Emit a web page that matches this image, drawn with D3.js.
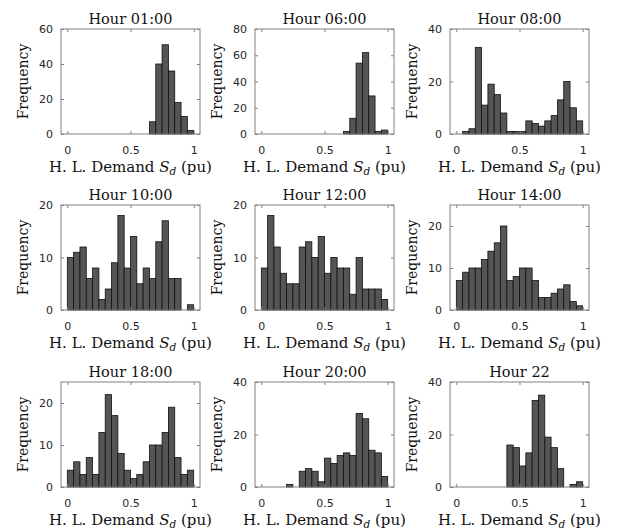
<!DOCTYPE html>
<html>
<head>
<meta charset="utf-8">
<script src="https://cdn.jsdelivr.net/npm/d3@7"></script>
<style>
  html, body { margin: 0; padding: 0; background: #fff; }
  svg { display: block; }
</style>
</head>
<body>
<svg id="chart" width="618" height="531"></svg>
<script>
// ---- Data ----
const titles = ["Hour 01:00", "Hour 06:00", "Hour 08:00",
                "Hour 10:00", "Hour 12:00", "Hour 14:00",
                "Hour 18:00", "Hour 20:00", "Hour 22"];
// bin left edges (bin width 0.05 pu)
const binEdges = [0, 0.05, 0.10, 0.15, 0.20, 0.25, 0.30, 0.35, 0.40, 0.45,
                  0.50, 0.55, 0.60, 0.65, 0.70, 0.75, 0.80, 0.85, 0.90, 0.95];
const binWidth = 0.05;
const counts01 = [0,0,0,0,0,0,0,0,0,0, 0,0,0,7,40,51,36,18,10,2];
const counts06 = [0,0,0,0,0,0,0,0,0,0, 0,0,0,2,12,54,62,29,2,3];
const counts08 = [0,1,2,33,11,19,15,8,1,1, 1,5,4,3,5,7,13,20,10,5];
const counts10 = [10,11,12,6,8,2,4,9,18,8, 14,5,8,6,13,17,6,6,0,1];
const counts12 = [8,18,12,7,5,5,12,13,10,14, 7,10,8,8,3,10,4,4,4,2];
const counts14 = [7,9,10,10,12,14,16,20,7,8, 10,10,7,3,3,4,5,6,2,1];
const counts18 = [4,6,3,7,3,13,22,17,8,4, 2,3,6,10,10,13,19,7,3,4];
const counts20 = [0,0,0,0,1,0,6,7,6,2, 11,9,12,13,12,28,26,14,13,4];
const counts22 = [0,0,0,0,0,0,0,0,16,15, 8,13,33,35,19,15,7,0,1,2];
const allCounts = [counts01, counts06, counts08, counts10, counts12, counts14, counts18, counts20, counts22];
const yMax = [60, 80, 40, 20, 20, 25, 25, 40, 40];
const yTicks = [[0,20,40,60],[0,20,40,60,80],[0,20,40],
                [0,10,20],[0,10,20],[0,10,20],
                [0,10,20],[0,20,40],[0,20,40]];
const xTicks = [0, 0.5, 1];
const xTickLabels = ["0", "0.5", "1"];
const xDomain = [-0.05, 1.05];

// ---- Layout ----
const colLeft = [61, 255, 450];
const rowTop = [29, 205, 382];
const pw = 139, ph = 105;

const svg = d3.select("#chart");
const serif = "'DejaVu Serif', serif";
const sans = "'DejaVu Sans', sans-serif";

allCounts.forEach((counts, i) => {
  const col = i % 3, row = Math.floor(i / 3);
  const x0 = colLeft[col], y0 = rowTop[row];
  const x = d3.scaleLinear().domain(xDomain).range([0, pw]);
  const y = d3.scaleLinear().domain([0, yMax[i]]).range([ph, 0]);
  const g = svg.append("g").attr("transform", `translate(${x0},${y0})`);

  // bars
  const data = binEdges.map((e, k) => ({ e, v: counts[k] })).filter(d => d.v > 0);
  g.selectAll("rect.bar").data(data).enter().append("rect")
    .attr("class", "bar")
    .attr("x", d => x(d.e))
    .attr("width", d => x(d.e + binWidth) - x(d.e))
    .attr("y", d => y(d.v))
    .attr("height", d => y(0) - y(d.v))
    .attr("fill", "#555555")
    .attr("stroke", "#111")
    .attr("stroke-width", 0.8);

  // axes (ticks inside)
  const axB = d3.axisBottom(x).tickValues(xTicks).tickFormat((d, k) => xTickLabels[k]).tickSizeInner(-3).tickSizeOuter(0).tickPadding(10);
  const axT = d3.axisTop(x).tickValues(xTicks).tickFormat("").tickSizeInner(-3).tickSizeOuter(0);
  const axL = d3.axisLeft(y).tickValues(yTicks[i]).tickFormat(d3.format("d")).tickSizeInner(-3).tickSizeOuter(0).tickPadding(8);
  const axR = d3.axisRight(y).tickValues(yTicks[i]).tickFormat("").tickSizeInner(-3).tickSizeOuter(0);

  const gb = g.append("g").attr("transform", `translate(0,${ph})`).call(axB);
  const gt = g.append("g").call(axT);
  const gl = g.append("g").call(axL);
  const gr = g.append("g").attr("transform", `translate(${pw},0)`).call(axR);
  [gb, gt, gl, gr].forEach(a => {
    a.select(".domain").remove();
    a.selectAll(".tick line").attr("stroke", "#808080");
    a.selectAll(".tick text").attr("fill", "#262626").style("font-family", sans).style("font-size", "11px");
  });
  gb.selectAll(".tick text").attr("dy", null).attr("y", 20);

  // box
  g.append("rect").attr("x", 0).attr("y", 0).attr("width", pw).attr("height", ph)
    .attr("fill", "none").attr("stroke", "#808080").attr("stroke-width", 1);

  // title
  g.append("text").attr("x", pw / 2).attr("y", -5.5).attr("text-anchor", "middle")
    .style("font-family", serif).style("font-size", "14.5px").attr("fill", "#111")
    .text(titles[i]);

  // x label
  const xl = g.append("text").attr("x", pw / 2).attr("y", ph + 38).attr("text-anchor", "middle")
    .style("font-family", serif).style("font-size", "15px").attr("fill", "#111");
  xl.append("tspan").text("H. L. Demand ");
  xl.append("tspan").style("font-style", "italic").text("S");
  xl.append("tspan").style("font-style", "italic").style("font-size", "10.5px").attr("dy", 3).text("d");
  xl.append("tspan").attr("dy", -3).text(" (pu)");

  // y label
  g.append("text").attr("transform", `translate(-33,${ph / 2}) rotate(-90)`)
    .attr("text-anchor", "middle")
    .style("font-family", serif).style("font-size", "14px").attr("fill", "#111")
    .text("Frequency");
});
</script>
</body>
</html>
